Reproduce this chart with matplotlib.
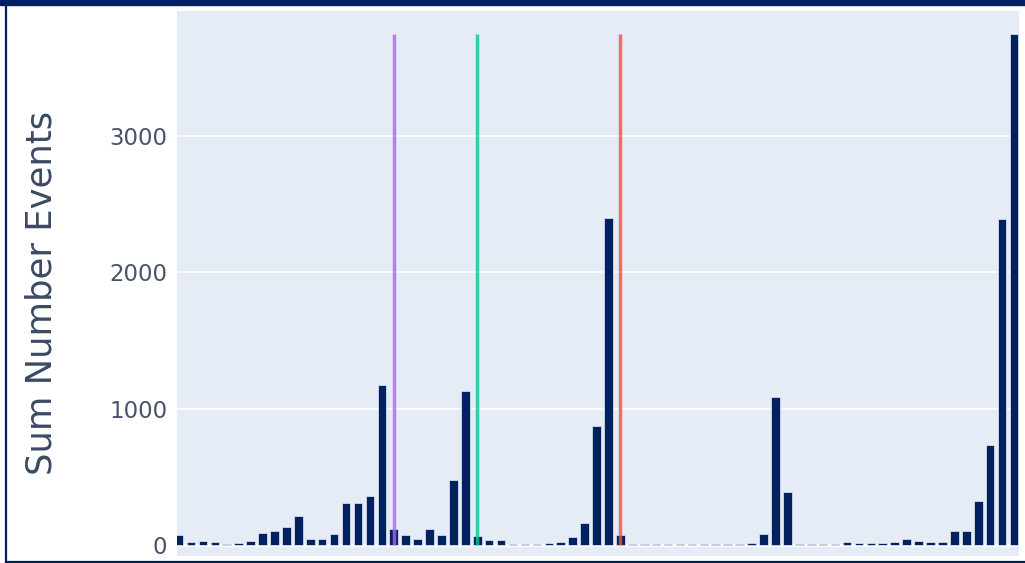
import matplotlib
matplotlib.use("Agg")
import matplotlib.pyplot as plt
from matplotlib.patches import Rectangle
from matplotlib.lines import Line2D
import numpy as np

plt.rcParams['font.family'] = ['DejaVu Sans']

# monthly totals (left to right)
events = [73, 22, 29, 22, 10, 18, 30, 85, 100, 130, 215, 45,
          45, 80, 305, 305, 360, 1170, 115, 73, 45, 115, 75, 475,
          1130, 65, 33, 33, 8, 8, 10, 15, 25, 60, 160, 870,
          2400, 70, 5, 5, 5, 5, 10, 5, 5, 10, 5, 5,
          15, 80, 1085, 385, 10, 5, 5, 5, 20, 15, 15, 15,
          25, 45, 30, 25, 20, 100, 105, 320, 730, 2390, 3750]
months = np.arange(len(events))

# marker lines sit on these months
line_months = [18, 25, 37]
line_colors = ['#AB63FA', '#00CC96', '#EF553B']

yticks = [0, 1000, 2000, 3000]

W, H = 1025, 563
fig = plt.figure(figsize=(W / 100, H / 100), dpi=100)
fig.patch.set_facecolor('white')

ax = fig.add_axes([177 / W, 1 - 556 / H, (1019 - 177) / W, (556 - 11) / H])
ax.set_facecolor('#E5ECF6')

ax.bar(months, events, width=0.72, color='#03215f', edgecolor='#E5ECF6',
       linewidth=0.5, zorder=3)

top = max(events)
for m, c in zip(line_months, line_colors):
    ax.plot([m, m], [0, top], color=c, lw=2.5, alpha=0.8, zorder=4,
            solid_capstyle='butt')

ax.set_xlim(-0.17, 70.42)
ax.set_ylim(-81, 3917)
ax.set_yticks(yticks)
ax.set_yticklabels([str(v) for v in yticks])
ax.set_xticks([])
ax.tick_params(axis='y', length=0, pad=7, labelsize=16.5, labelcolor='#46536b')
ax.grid(axis='y', color='white', lw=1.2, zorder=0)
ax.axhline(0, color='white', lw=2, zorder=1)
for s in ax.spines.values():
    s.set_visible(False)

fig.text(42 / W, 1 - 293 / H, 'Sum Number Events', rotation=90,
         ha='center', va='center', fontsize=25.5, color='#3b4a63')

# dark frame around the card
navy = '#002060'
fig.patches.append(Rectangle((0, 1 - 5 / H), 1, 5 / H, transform=fig.transFigure,
                             color=navy, zorder=10))
fig.lines.append(Line2D([6 / W, 6 / W], [1.5 / H, 1], transform=fig.transFigure,
                        color=navy, lw=1.6, zorder=10))
fig.lines.append(Line2D([6 / W, 1], [1.5 / H, 1.5 / H], transform=fig.transFigure,
                        color=navy, lw=1.6, zorder=10))

fig.savefig('out.png', dpi=100)
